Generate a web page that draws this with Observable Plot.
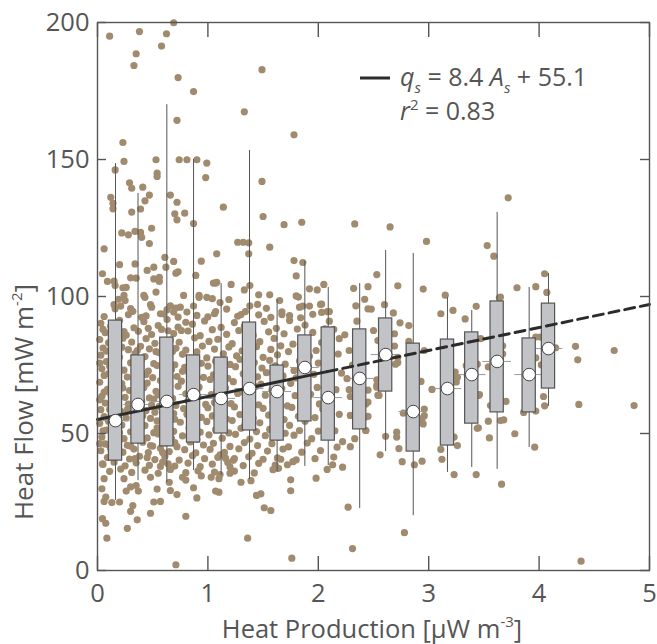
<!DOCTYPE html>
<html><head><meta charset="utf-8">
<script src="https://cdn.jsdelivr.net/npm/d3@7"></script>
<script src="https://cdn.jsdelivr.net/npm/@observablehq/plot@0.6"></script>
<style>
html,body{margin:0;padding:0;background:#fff;}
#chart{width:657px;height:644px;position:relative;}
</style></head><body><div id="chart"></div>
<script>
// ---- scatter points [heat production, heat flow] ----
const upperPoints = [
[0.11,195],[0.38,196.7],[0.35,188.6],[0.33,184.3],[0.58,191.4],[0.625,195.9],[0.69,199.9],[0.73,179.9],[0.87,174.8],[0.72,164.3],[1.49,182.8],[1.33,167.4],[1.78,159],
[0.23,156.2],[0.16,146.2],[0.24,149.3],[0.53,149.9],[0.54,145],[0.54,143.8],[0.74,149.9],[0.81,149.9],[0.90,149.9],[0.99,148.7],[0.98,143.4],
[0.12,136.2],[0.14,134],[0.14,132],[0.29,141.5],[0.31,139.5],[0.41,139.9],[0.47,137],[0.43,134.9],[0.39,131.9],[0.31,130.8],[0.66,137],[0.72,134.4],[0.70,130.2],[0.72,128],[0.79,130.4],[0.87,126.6],[1.14,132.6],[1.49,142],[1.50,129.2],[1.69,126.2],[1.85,127.1],
[0.22,123.2],[0.28,122.5],[0.34,123.8],[0.39,123.4],[0.40,121.6],[0.49,124.9],[0.47,119.3],[0.06,117.4],
[0.045,108.3],[0.09,105.5],[0.15,105.6],[0.16,104],[0.20,111.6],[0.23,103.2],[0.26,103.3],[0.30,106.8],[0.34,111.9],[0.35,106.7],[0.42,100.4],[0.45,109.5],[0.51,110.7],[0.51,106.4],[0.56,107],[0.56,105.5],[0.61,114.3],[0.62,110.7],[0.69,112.8],[0.71,108.5],[0.73,109],[0.78,100.4],[0.89,107.7],[0.92,100.4],[0.94,112.9],[1.08,115.6],[1.05,104.9],[1.07,104.9],[1.11,97.8],[1.21,104.4],[1.19,98.9],[1.27,119.8],[1.32,119.8],[1.37,119.6],[1.37,115.6],[1.38,104],[1.33,102.4],[1.46,100.6],[1.56,118],[1.56,100.6],[1.65,98.5],[1.67,94.4],[1.78,113.1],[1.80,107.5],[1.80,100.2],[1.92,102.8],[1.99,102.4],[2.05,104.4],[2.03,97.2],[2.10,94.5],[1.86,112.4],
[3.72,136],[2.33,126.5],[2.65,125.4],[2.98,120.1],[3.53,118.6],[3.59,114.7],[2.53,108],[2.32,103],[2.45,103.6],[2.72,103.9],[2.95,102.7],[3.15,100.5],[2.42,99],[2.34,96.6],[2.45,95.5],[2.48,95.4],[2.60,97],[2.68,94],[2.08,94.5],[3.11,93.7],[3.22,94.9],[3.43,96.4],[3.64,99.5],[3.80,103.2],[3.97,103.6],[4.05,108.3],[4.07,101.5],[3.33,91.8],
[0.15,97],[0.16,95.5],[0.19,99],[0.21,96.5],[0.24,100.4],[0.25,98.5],[0.30,95.6],[0.32,94.6],[0.40,92.4],[0.43,99.7],[0.48,97],[0.49,96.1],[0.53,101.6],[0.57,93.7],[0.63,95.2],[0.66,96.6],[0.69,94.3],[0.71,95.8],[0.75,96.1],[0.81,94.3],[0.87,96.5],[0.92,99.7],[0.99,99.7],[1.04,99.2],[1.06,93.7],[0.80,90.6],[0.73,88.8],[0.76,87.6],
[1.38,96.6],[1.45,97.1],[1.53,95.7],[1.17,95.4],[1.34,94.5],[1.30,93.4],[1.67,93.4],[1.82,99.8],[1.83,96.1],[1.86,96.5],[1.92,96.5],[2.02,97.1],[2.03,94.2],[2.10,91],[1.07,94.5],[1.08,105.2]
];
const rightPoints = [
[4.33,81.8],[4.68,80.3],[4.35,76.9],[4.36,60.6],[4.86,60.2],[4.38,3.4],[4.05,60.1],[3.97,58.2],[3.96,45],[3.78,49.9],[3.68,55],[3.70,61.7],[3.55,48.4],[3.54,54.5],[3.66,31.5],[3.43,35],[3.44,51.9],[3.46,64.2],[3.23,35],[3.26,45.6],[3.12,40.6],[3.11,44.2],[3.03,66.1],[2.94,39.9],[2.87,38.6],[2.76,39.7],[2.78,13.8],[2.73,44.5],[2.71,48.7],[2.61,49],[2.56,42.2],[2.95,53.5],[2.94,55.4],[2.27,23.1],[2.31,8],[2.33,48.1],[2.29,45.2],[2.22,37.7],[2.14,41.4],[2.13,38.6],[2.43,51.1],[2.45,56.3],[2.45,61.5],[2.45,65.8],[2.29,56.6],[2.29,63.5],[2.28,66],[2.28,80.3],[2.19,84.6],[2.54,83.9],[2.53,66.9],[2.54,64],[2.69,86.4],[2.70,75.3],[2.72,75.9],[2.74,90.4],[2.93,69],[3.35,71.2],[3.25,68.8],[3.44,75.3],[3.40,82],
[3.97,85.2],[4.01,85.2],[3.97,77.6],[4.02,75.1],[4.15,81.3],[4.04,63.5],[3.86,57.7],[3.67,79.1],[3.67,82],[3.65,99.8],
[2.50,87.6],[2.69,81.9],[2.72,77.8],[2.82,89.4],[2.82,83.6],[2.96,80.3],[2.53,69.6],[2.53,67.6],[2.55,63.9],[3.24,72.4],[3.26,70.5],[3.34,74.8],[3.45,63.9],[3.47,84.6],[3.41,82.9],[3.38,77.1],[3.54,74.3],[3.56,60.2],[3.65,54.7],[3.66,62],[2.77,57.4],[2.96,58.9],[2.96,56.5],[2.71,50.5],[3.23,48.7],[3.45,52.1],[2.43,60.8],[2.43,56],[2.43,51.1],
[2.14,88],[2.18,79],[2.21,72],[2.16,66],[2.24,86],[2.12,60],[2.19,57],[2.15,51],[2.22,47],[2.17,45],[2.26,70],[2.31,75],[2.34,86],[2.35,91],[2.38,80],[2.40,70]
];
const lowerPoints = [
[0.045,38.9],[0.06,33.5],[0.04,29.8],[0.075,26.8],[0.13,24.8],[0.06,25.2],[0.045,18.9],[0.075,17.2],[0.085,11.8],[0.2,25],[0.27,15.4],[0.30,21.6],[0.32,23.7],[0.36,18.5],[0.24,33.5],[0.26,29],[0.30,30.5],[0.35,31],[0.37,29],[0.48,34],[0.48,20.9],[0.51,25],[0.57,25.2],[0.54,29.7],[0.57,38],[0.65,32.2],[0.66,29.2],[0.72,27.7],[0.71,2.1],[0.80,19.8],[0.77,34],[0.80,33],[0.87,30.2],[0.90,26.5],[0.94,34.5],[1.03,34],[1.07,29],[1.10,28.6],[1.10,33.5],[1.11,35],[1.20,35.5],[1.30,32.2],[1.39,32.8],[1.44,27.4],[1.48,28],[1.51,22.9],[1.57,21.9],[1.36,11.8],[1.76,4.5],[1.75,33.1],[1.75,29.1],[1.72,38.6],[1.64,37.3],[1.66,40.6],[1.98,33.7],[2.08,36.9],[1.97,40.8],[1.20,37.8],[1.24,40.8],[1.11,42.2],[1.16,41]
];
const densePoints = [
[0.03,90.2],[0.12,89.1],[0.2,91.3],[0.33,88.6],[0.42,90.8],[0.55,89.4],[0.63,91.6],[0.86,89.9],[0.97,91.1],[1.12,88.7],[1.24,90.5],[1.33,89.2],[1.51,90.9],[1.62,88.4],[1.74,91.2],[1.88,89.6],[2.06,88.2],
[0.07,86.8],[0.18,87.9],[0.26,85.9],[0.37,87.3],[0.49,86.1],[0.58,88],[0.69,86.5],[0.82,87.4],[0.93,85.7],[1.04,87.9],[1.17,86.2],[1.28,87.6],[1.41,85.8],[1.55,87.1],[1.69,86.4],[1.81,88.1],[1.95,86.9],
[0.02,84.3],[0.1,83.1],[0.23,84.8],[0.31,83.4],[0.44,84.6],[0.52,82.9],[0.66,84.1],[0.74,83.3],[0.88,84.9],[1.01,83.6],[1.09,84.4],[1.22,82.8],[1.36,84.2],[1.47,83.5],[1.6,84.7],[1.77,82.6],[1.9,84],[2.03,83.2],
[0.05,81.2],[0.15,82.1],[0.28,80.6],[0.39,81.8],[0.47,80.9],[0.6,82.2],[0.71,81.1],[0.8,80.4],[0.95,81.9],[1.06,80.8],[1.19,81.6],[1.31,80.2],[1.44,81.7],[1.57,80.7],[1.66,82],[1.84,81],[1.98,80.3],
[0.03,78.6],[0.13,79.7],[0.2,77.9],[0.34,79.2],[0.43,78.1],[0.56,79.5],[0.64,77.7],[0.77,78.9],[0.9,79.8],[0.99,77.6],[1.14,79.1],[1.26,78.3],[1.38,79.6],[1.5,77.8],[1.63,78.7],[1.73,79.9],[1.92,78.2],[2.08,79.4],
[0.08,76.2],[0.17,77.1],[0.3,75.8],[0.4,76.9],[0.51,75.5],[0.62,76.6],[0.7,75.1],[0.84,76.8],[0.94,75.6],[1.07,76.4],[1.2,75.2],[1.29,77],[1.42,75.9],[1.56,76.7],[1.7,75.3],[1.83,76.5],[2.0,75.7],
[0.04,73.6],[0.11,74.5],[0.24,73.1],[0.36,74.2],[0.46,72.8],[0.54,74.8],[0.67,73.4],[0.79,74.1],[0.87,72.9],[1.0,74.6],[1.13,73.2],[1.25,74.4],[1.35,72.7],[1.49,73.9],[1.61,74.7],[1.78,73],[1.91,74.3],[2.05,72.6],
[0.06,71.2],[0.16,72],[0.27,70.6],[0.38,71.7],[0.5,70.4],[0.59,71.9],[0.72,70.8],[0.83,72.1],[0.96,70.5],[1.05,71.4],[1.18,70.1],[1.32,71.8],[1.45,70.7],[1.53,72.2],[1.68,71],[1.8,70.3],[1.96,71.6],
[0.02,68.7],[0.14,69.5],[0.22,68.2],[0.33,69.8],[0.45,68.4],[0.57,69.3],[0.65,67.9],[0.76,69.1],[0.89,68.5],[1.02,69.7],[1.1,67.8],[1.23,68.9],[1.37,69.4],[1.48,68],[1.64,69.6],[1.75,68.3],[1.89,69.9],[2.09,68.6],
[0.09,66.1],[0.19,67],[0.29,65.7],[0.42,66.8],[0.53,65.4],[0.61,66.3],[0.73,67.2],[0.85,65.8],[0.92,66.9],[1.08,65.5],[1.16,66.6],[1.3,65.2],[1.43,67.1],[1.58,65.9],[1.67,66.4],[1.86,65.6],[1.99,66.8],
[0.04,63.6],[0.12,64.4],[0.25,63.2],[0.35,64.7],[0.47,63],[0.55,64.1],[0.68,62.8],[0.8,64.5],[0.91,63.4],[1.03,64.2],[1.15,62.9],[1.27,64.6],[1.4,63.3],[1.52,64],[1.65,62.7],[1.79,63.8],[1.93,64.3],[2.07,63.1],
[0.07,61.1],[0.18,62],[0.28,60.7],[0.4,61.8],[0.49,60.4],[0.63,61.6],[0.71,60.2],[0.82,61.9],[0.98,60.6],[1.06,61.3],[1.21,60.9],[1.34,62.1],[1.46,60.5],[1.59,61.4],[1.72,60.1],[1.85,61.7],[2.01,60.8],
[0.03,58.7],[0.13,59.6],[0.21,58.1],[0.32,59.3],[0.44,58.4],[0.56,59.9],[0.66,58.3],[0.78,59.1],[0.88,57.8],[1.0,59.4],[1.12,58.2],[1.24,59.7],[1.36,57.9],[1.5,59.2],[1.62,58.6],[1.76,59.5],[1.9,57.7],[2.04,58.9],
[0.06,56.2],[0.16,57.1],[0.26,55.7],[0.37,56.8],[0.48,55.5],[0.6,56.6],[0.7,55.2],[0.81,57],[0.94,55.9],[1.04,56.4],[1.17,55.3],[1.29,56.9],[1.41,55.6],[1.55,56.7],[1.69,55.1],[1.82,56.3],[1.97,55.8],
[0.02,53.7],[0.1,54.5],[0.22,53.1],[0.34,54.3],[0.43,52.9],[0.54,54.6],[0.64,53.4],[0.75,54.1],[0.86,52.8],[0.99,54.4],[1.11,53.2],[1.22,54.7],[1.33,52.7],[1.47,53.9],[1.6,54.2],[1.74,53],[1.88,54.5],[2.06,53.3],
[0.08,51.2],[0.17,52],[0.3,50.6],[0.39,51.8],[0.51,50.3],[0.58,51.6],[0.69,50.8],[0.83,52.1],[0.93,50.5],[1.07,51.4],[1.19,50.2],[1.3,51.9],[1.44,50.7],[1.56,51.5],[1.7,50.1],[1.83,51.1],[2.0,50.9],
[0.04,48.7],[0.14,49.6],[0.24,48.1],[0.36,49.3],[0.45,48.4],[0.55,49.8],[0.67,48.2],[0.77,49.1],[0.9,47.9],[1.01,49.5],[1.13,48.3],[1.25,49.7],[1.38,48],[1.52,49.2],[1.64,48.6],[1.78,49.4],[1.94,48.1],
[0.07,46.2],[0.19,47],[0.27,45.7],[0.41,46.8],[0.5,45.4],[0.62,46.6],[0.72,45.2],[0.84,46.9],[0.96,45.8],[1.05,46.4],[1.2,45.3],[1.33,46.7],[1.45,45.6],[1.58,46.3],[1.73,45.1],[1.9,46.5],
[0.03,43.7],[0.12,44.5],[0.23,43.2],[0.33,44.3],[0.46,43],[0.57,44.6],[0.65,43.4],[0.79,44.1],[0.89,42.9],[1.02,44.2],[1.15,43.1],[1.28,44.4],[1.4,42.8],[1.54,43.6],[1.68,44.3],[1.85,43.2],[2.02,43.8],
[0.09,41.2],[0.18,42],[0.29,40.7],[0.38,41.7],[0.52,40.5],[0.61,41.6],[0.74,40.3],[0.86,41.9],[0.97,40.8],[1.09,41.3],[1.23,40.2],[1.37,41.5],[1.5,40.6],[1.63,41.1],[1.8,40.4],
[0.05,38.7],[0.15,39.5],[0.25,38.2],[0.35,39.3],[0.47,38.4],[0.59,39.6],[0.7,38.1],[0.82,39.2],[0.93,37.9],[1.04,38.8],[1.18,39.4],[1.32,38.3],[1.46,39.1],[1.61,38.5],[1.77,39.7],
[0.11,36.2],[0.21,37],[0.31,35.8],[0.43,36.6],[0.55,35.5],[0.66,36.9],[0.8,35.7],[0.91,36.4],[1.06,35.9],[1.24,36.3],[1.42,35.6],[1.59,36.8],
[0.06,92.7],[0.28,93.4],[0.44,92.9],[0.6,93.6],[0.73,92.5],[0.9,93.1],[1.0,92.6],[1.27,92.8],[1.46,93.3],[1.57,92.4],[1.74,93],[1.84,92.2],[1.95,93.5],
[0.05,88],[0.24,87.2],[0.46,88.4],[0.64,87.5],[0.08,80.1],[0.22,81.5],[0.36,80.3],[0.53,79.9],[0.68,80],[0.1,71.9],[0.2,73.5],[0.44,71.5],[0.63,72.3],[0.77,72.7],
[0.06,65.1],[0.23,66.6],[0.33,62.7],[0.51,62.6],[0.65,65.6],[0.11,58.8],[0.27,58.7],[0.41,56.5],[0.52,57.8],[0.69,57.3],[0.05,51],[0.2,50.3],[0.35,51.2],[0.54,52.1],[0.63,49.8],
[0.1,45.9],[0.3,45.4],[0.48,45.6],[0.59,43.1],[0.7,46.7],[0.14,41.3],[0.34,40.8],[0.45,41.2],[0.64,38.9],[0.02,62.3],[0.02,46.3],[0.02,75.7]
];

// ---- binned box plots ----
const boxX      = [0.163,0.367,0.628,0.87,1.12,1.377,1.627,1.878,2.09,2.375,2.61,2.86,3.17,3.39,3.62,3.91,4.085];
const boxQ3     = [91.2,78.5,85,78.5,77.7,90.5,74.8,85.8,88.7,88,92,82.8,84.3,86.9,98.2,84.7,97.4];
const boxQ1     = [40.1,46.3,45.3,46.7,50,51.1,47.4,54.4,47.4,51.5,65.3,43.4,45.6,53.6,57.7,57.7,66.4];
const whiskerHi = [148.5,137.6,170,150,104.7,153.3,98.9,112.8,103.3,104.7,116.8,115.7,99.6,94.9,130.7,103.3,108.4];
const whiskerLo = [25.5,32.8,32.1,36.5,34.7,33.2,35.8,38,38.3,22.6,43.4,20,35.8,37.6,36.9,44.9,59.9];
const boxMean   = [54.7,60.6,61.7,64.2,62.8,66.4,65.3,74.1,63.1,70.1,78.8,58,66.4,71.5,76.3,71.5,81];

// ---- fit ----
const fitSlope = 8.4, fitIntercept = 55.1, fitR2 = 0.83;
const fitBreak = 2.08;   // end of the solid (data-supported) part
const xTicks = [0,1,2,3,4,5];
const yTicks = [0,50,100,150,200];

const heatPoints = [...upperPoints, ...rightPoints, ...lowerPoints, ...densePoints];
const boxes = boxX.map((x,i)=>({x, q1: boxQ1[i], q3: boxQ3[i], lo: whiskerLo[i], hi: whiskerHi[i], mean: boxMean[i]}));
const fitSolid  = [0, fitBreak].map(x=>({x, y: fitSlope*x + fitIntercept}));
const fitDashed = [fitBreak, 5].map(x=>({x, y: fitSlope*x + fitIntercept}));

const halfW = 0.06;
const fmt = d => String(d);
const svg = Plot.plot({
  width: 657, height: 644,
  marginLeft: 97, marginRight: 8, marginTop: 22, marginBottom: 74,
  style: {fontFamily: "'Open Sans', sans-serif", color: "#555", background: "#fff", overflow: "visible"},
  x: {domain: [0,5]},
  y: {domain: [0,200]},
  marks: [
    Plot.dot(heatPoints, {x: d=>d[0], y: d=>d[1], r: 3.6, fill: "#a08b6e"}),
    Plot.ruleY(boxes, {y: "mean", x1: d=>d.x-0.13, x2: d=>d.x+0.13, stroke: "#999", strokeWidth: 1}),
    Plot.ruleX(boxes, {x: "x", y1: "lo", y2: "hi", stroke: "#555", strokeWidth: 1}),
    Plot.rect(boxes, {x1: d=>d.x-halfW, x2: d=>d.x+halfW, y1: "q1", y2: "q3", fill: "#c2c3c7", stroke: "#555", strokeWidth: 1.2}),
    Plot.line(fitSolid, {x: "x", y: "y", stroke: "#2b2b2b", strokeWidth: 3}),
    Plot.line(fitDashed, {x: "x", y: "y", stroke: "#2b2b2b", strokeWidth: 3, strokeDasharray: "10,6"}),
    Plot.dot(boxes, {x: "x", y: "mean", r: 6.3, fill: "white", stroke: "#444", strokeWidth: 1}),
    Plot.frame({stroke: "#555", strokeWidth: 1.4}),
    Plot.axisX({ticks: xTicks, tickFormat: fmt, tickSize: -14, tickPadding: 27, fontSize: 25.5, label: null, strokeWidth: 1.4}),
    Plot.axisX({anchor: "top", ticks: xTicks, tickSize: -14, tickFormat: () => "", label: null, strokeWidth: 1.4}),
    Plot.axisY({ticks: yTicks, tickFormat: fmt, tickSize: -9, tickPadding: 17, fontSize: 25.5, label: null, strokeWidth: 1.4}),
    Plot.axisY({anchor: "right", ticks: yTicks, tickSize: -10, tickFormat: () => "", label: null, strokeWidth: 1.4})
  ]
});
document.getElementById("chart").appendChild(svg);

// ---- axis labels and legend (text) ----
const s = d3.select(svg);
const FONT = "'Open Sans', sans-serif";
const xl = s.append("text").attr("x", 372).attr("y", 638).attr("text-anchor", "middle")
  .attr("font-size", 25.5).attr("fill", "#555").attr("font-family", FONT);
xl.append("tspan").text("Heat Production [μW m");
xl.append("tspan").attr("font-size", 15).attr("dy", -11).text("-3");
xl.append("tspan").attr("dy", 11).text("]");

const yl = s.append("text").attr("transform", "translate(33,402) rotate(-90)").attr("text-anchor", "middle")
  .attr("font-size", 26).attr("fill", "#555").attr("font-family", FONT);
yl.append("tspan").text("Heat Flow [mW m");
yl.append("tspan").attr("font-size", 15).attr("dy", -11).text("-2");
yl.append("tspan").attr("dy", 11).text("]");

s.append("line").attr("x1", 360).attr("x2", 390).attr("y1", 78).attr("y2", 78)
  .attr("stroke", "#2b2b2b").attr("stroke-width", 3);
const l1 = s.append("text").attr("x", 400).attr("y", 86).attr("text-anchor", "start").attr("font-size", 25).attr("fill", "#555")
  .attr("font-family", FONT);
l1.append("tspan").attr("font-style", "italic").text("q");
l1.append("tspan").attr("font-style", "italic").attr("font-size", 15).attr("dy", 7).text("s");
l1.append("tspan").attr("dy", -7).text(" = " + fitSlope.toFixed(1) + " ");
l1.append("tspan").attr("font-style", "italic").text("A");
l1.append("tspan").attr("font-style", "italic").attr("font-size", 15).attr("dy", 7).text("s");
l1.append("tspan").attr("dy", -7).text(" + " + fitIntercept.toFixed(1));
const l2 = s.append("text").attr("x", 400).attr("y", 120).attr("text-anchor", "start").attr("font-size", 25).attr("fill", "#555")
  .attr("font-family", FONT);
l2.append("tspan").attr("font-style", "italic").text("r");
l2.append("tspan").attr("font-size", 15).attr("dy", -10).text("2");
l2.append("tspan").attr("dy", 10).text(" = " + fitR2.toFixed(2));
</script></body></html>
